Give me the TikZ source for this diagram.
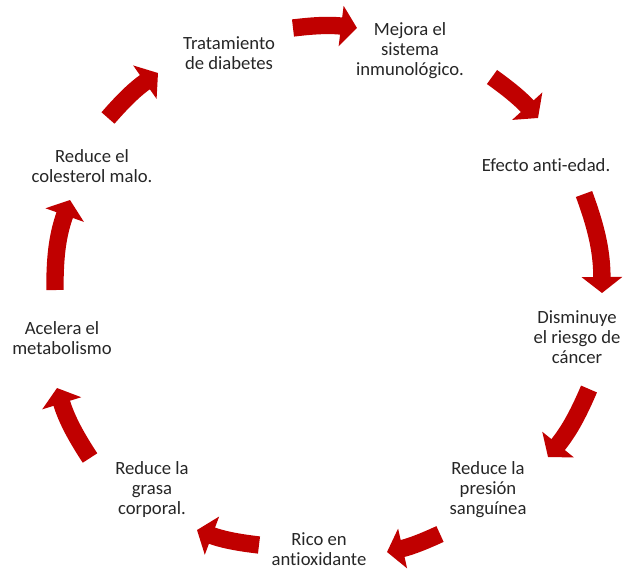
\documentclass[tikz,border=0pt]{standalone}
\usepackage{fontspec}
\setmainfont[Ligatures=NoCommon]{Carlito}
\usepackage{tikz}
\usetikzlibrary{arrows.meta}
\usepackage{color}
\definecolor{rojo}{RGB}{192,0,0}
\definecolor{gristexto}{RGB}{38,38,38}

\begin{document}
\begin{tikzpicture}[line join=round,>={Triangle[width=30pt,length=12pt]},x=0.75pt,y=-0.75pt,
  texto/.style={align=center,inner sep=0pt,text=gristexto,font=\fontsize{14}{15}\selectfont},
  flecha/.style={->,line width=13pt,color=rojo}]
\useasboundingbox (0,0) rectangle (623,568);
\node[texto] (trat) at (229,53) {Tratamiento\\de diabetes};
\node[texto] (mejora) at (410,51) {Mejora el\\sistema\\inmunológico.};
\node[texto] (efecto) at (546,165) {Efecto anti-edad.};
\node[texto] (cancer) at (577,337) {Disminuye\\el riesgo de\\cáncer};
\node[texto] (presion) at (488,490) {Reduce la\\presión\\sanguínea};
\node[texto] (rico) at (319,549) {Rico en\\antioxidante};
\node[texto] (grasa) at (152,490) {Reduce la\\grasa\\corporal.};
\node[texto] (meta) at (62,338) {Acelera el\\metabolismo};
\node[texto] (colest) at (92,166) {Reduce el\\colesterol malo.};
\coordinate (c1) at (293,28);  \coordinate (p1) at (357,28);
\coordinate (c2) at (492,77);  \coordinate (p2) at (538,118);
\coordinate (c3) at (584,194); \coordinate (p3) at (602,293);
\coordinate (c4) at (589,389); \coordinate (p4) at (548,457);
\coordinate (c5) at (440,534); \coordinate (p5) at (387,552);
\coordinate (c6) at (259,545); \coordinate (p6) at (197,530);
\coordinate (c7) at (90,458);  \coordinate (p7) at (57,388);
\coordinate (c8) at (55,290);  \coordinate (p8) at (70,200);
\coordinate (c9) at (108,118); \coordinate (p9) at (158,73);
\draw[flecha] (c1) to[bend left=7] (p1);
\draw[flecha] (c2) to[bend left=6] (p2);
\draw[flecha] (c3) to[bend left=10] (p3);
\draw[flecha] (c4) to[bend left=8] (p4);
\draw[flecha] (c5) to[bend left=6] (p5);
\draw[flecha] (c6) to[bend left=7] (p6);
\draw[flecha] (c7) to[bend left=8] (p7);
\draw[flecha] (c8) to[bend left=10] (p8);
\draw[flecha] (c9) to[bend left=7] (p9);
\end{tikzpicture}
\end{document}
